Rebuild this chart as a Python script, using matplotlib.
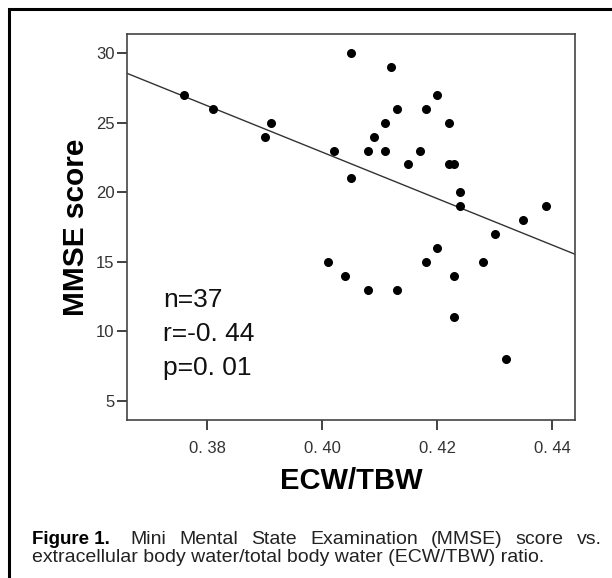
import matplotlib
matplotlib.use("Agg")
import matplotlib.pyplot as plt
from matplotlib.patches import Rectangle
from matplotlib.ticker import FuncFormatter

# ECW/TBW ratio vs MMSE score
ecw_tbw = [0.376, 0.381, 0.390, 0.391, 0.402, 0.405, 0.405, 0.401, 0.404,
           0.412, 0.420, 0.413, 0.418, 0.411, 0.422, 0.409, 0.408, 0.411,
           0.417, 0.415, 0.422, 0.423, 0.424, 0.424, 0.439, 0.435, 0.430,
           0.420, 0.418, 0.428, 0.423, 0.408, 0.413, 0.423, 0.432]
mmse = [27, 26, 24, 25, 23, 21, 30, 15, 14,
        29, 27, 26, 26, 25, 25, 24, 23, 23,
        23, 22, 22, 22, 20, 19, 19, 18, 17,
        16, 15, 15, 14, 13, 13, 11, 8]

# regression line end points
fit_x = [0.366, 0.444]
fit_y = [28.56, 15.54]

x_ticks = [0.38, 0.40, 0.42, 0.44]
y_ticks = [5, 10, 15, 20, 25, 30]
stats_text = ["n=37", "r=-0. 44", "p=0. 01"]
caption_1 = "Mini Mental State Examination (MMSE) score vs."
caption_2 = "extracellular body water/total body water (ECW/TBW) ratio."

plt.rcParams["font.family"] = ["Liberation Sans", "DejaVu Sans"]

fig = plt.figure(figsize=(6.12, 5.78), dpi=100)
ax = fig.add_axes([127 / 612, 1 - 420 / 578, 448 / 612, 386 / 578])

ax.plot(fit_x, fit_y, color="#333333", lw=1.0)
ax.scatter(ecw_tbw, mmse, s=30, color="black", zorder=3)

ax.set_xlim(0.366, 0.444)
ax.set_ylim(3.61, 31.39)
ax.set_xticks(x_ticks)
ax.set_yticks(y_ticks)
ax.xaxis.set_major_formatter(FuncFormatter(lambda v, p: ("%.2f" % v).replace(".", ". ")))
ax.tick_params(direction="out", length=7, width=1.3, color="#333333",
               labelsize=12, labelcolor="#333333", pad=2)
ax.tick_params(axis="x", pad=8)
for s in ax.spines.values():
    s.set_color("#444444")
    s.set_linewidth(1.2)

ax.set_xlabel("ECW/TBW", fontsize=21, fontweight="bold", labelpad=8)
ax.set_ylabel("MMSE score", fontsize=21.5, fontweight="bold", labelpad=4)

for i, t in enumerate(stats_text):
    ax.text(163 / 612, 1 - (300 + i * 34) / 578, t, transform=fig.transFigure,
            fontsize=19, va="center", ha="left", color="#111111")

# outer frame
fig.patches.append(Rectangle((9 / 612, -0.1), 1.2, 1 - 9 / 578 + 0.1,
                             transform=fig.transFigure, fill=False,
                             edgecolor="black", lw=2.2))

fig.text(32 / 612, 1 - 539 / 578, "Figure 1.", fontsize=13.5, fontweight="bold",
         va="center", ha="left", color="black")

# first caption line is justified between x=130 and x=602 px
renderer = fig.canvas.get_renderer()
words = caption_1.split()
items = [fig.text(0, 1 - 539 / 578, w, fontsize=14, va="center", ha="left",
                  color="#222222") for w in words]
widths = [it.get_window_extent(renderer).width for it in items]
gap = (602 - 130 - sum(widths)) / (len(words) - 1)
xpos = 130
for it, w in zip(items, widths):
    it.set_x(xpos / 612)
    xpos += w + gap

fig.text(32 / 612, 1 - 558 / 578, caption_2,
         fontsize=14, va="center", ha="left", color="#222222")

fig.savefig("out.png", dpi=100)
